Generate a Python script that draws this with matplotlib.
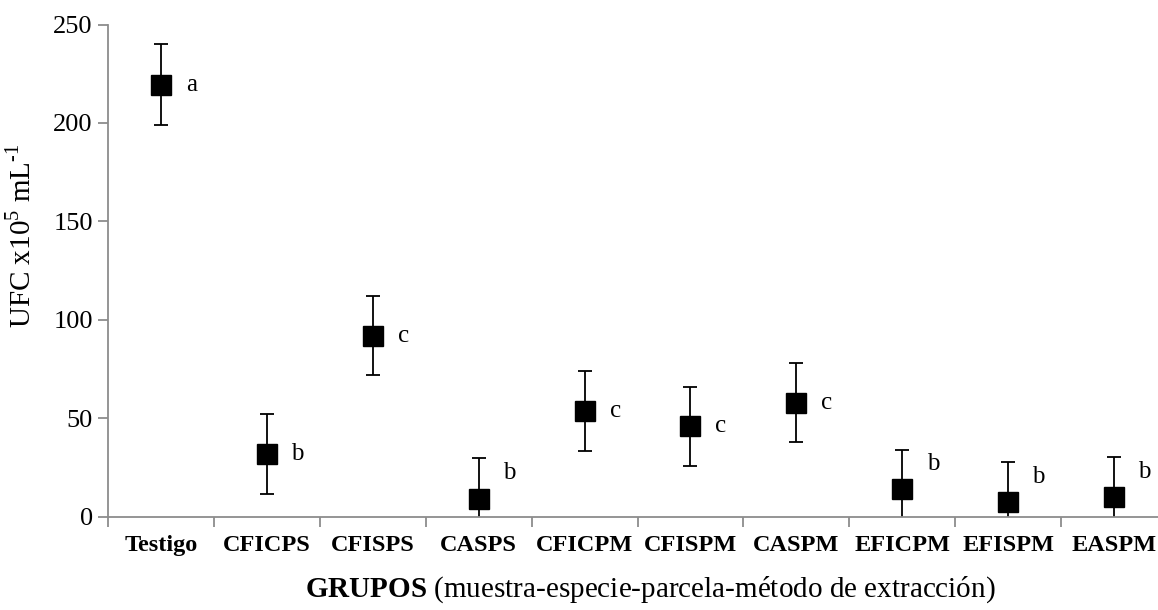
import matplotlib
matplotlib.use('Agg')
import matplotlib.pyplot as plt
import numpy as np

plt.rcParams['font.family'] = ['Liberation Serif', 'DejaVu Serif']
plt.rcParams['mathtext.fontset'] = 'custom'
plt.rcParams['mathtext.rm'] = 'Liberation Serif'
plt.rcParams['mathtext.bf'] = 'Liberation Serif:bold'

grupos = ['Testigo', 'CFICPS', 'CFISPS', 'CASPS', 'CFICPM', 'CFISPM',
          'CASPM', 'EFICPM', 'EFISPM', 'EASPM']
ufc = [219.5, 31.8, 91.8, 9.0, 53.7, 45.8, 57.8, 13.9, 7.3, 9.7]
err = [20.5, 20.3, 20.0, 20.5, 20.4, 20.0, 20.1, 20.0, 20.3, 20.5]
letras = ['a', 'b', 'c', 'b', 'c', 'c', 'c', 'b', 'b', 'b']

W, H = 1158, 610
fig = plt.figure(figsize=(W / 100, H / 100), dpi=100)
ax = fig.add_axes([108 / W, (H - 516.5) / H, (1167 - 108) / W, (516.5 - 24.5) / H])

x = np.arange(len(grupos))
ax.errorbar(x, ufc, yerr=err, fmt='s', color='black', ecolor='black',
            markersize=14.5, elinewidth=1.3, capsize=5, capthick=1.3)

for xi, yi, lt in zip(x, ufc, letras):
    ly = yi if yi > 20 else yi + 13
    ax.annotate(lt, (xi, ly), xytext=(22, 0), textcoords='offset points',
                ha='center', va='center', fontsize=18)

ax.set_xlim(-0.5, len(grupos) - 0.5)
ax.set_ylim(0, 250)
ax.set_yticks([0, 50, 100, 150, 200, 250])

# category boundaries as ticks, names as minor ticks
ax.set_xticks(np.arange(len(grupos) + 1) - 0.5)
ax.set_xticklabels([])
ax.set_xticks(x, minor=True)
ax.set_xticklabels(grupos, minor=True, fontweight='bold', fontsize=17.5)
ax.tick_params(axis='x', which='minor', length=0, pad=13)
ax.tick_params(axis='x', which='major', length=7, color='#8c8c8c', width=1.3)
ax.tick_params(axis='y', length=7, color='#8c8c8c', width=1.3, labelsize=19, pad=4)

for s in ['top', 'right']:
    ax.spines[s].set_visible(False)
for s in ['left', 'bottom']:
    ax.spines[s].set_color('#8c8c8c')
    ax.spines[s].set_linewidth(1.3)

ax.set_ylabel(r'UFC x10$^{5}$ mL$^{\text{-}1}$', fontsize=21)
ax.yaxis.set_label_coords(-0.068, 0.57)
fig.text(650 / W, 1 - 590 / H,
         r'$\mathbf{GRUPOS}$ (muestra-especie-parcela-método de extracción)',
         ha='center', va='center', fontsize=21)

fig.savefig('out.png', dpi=100)
